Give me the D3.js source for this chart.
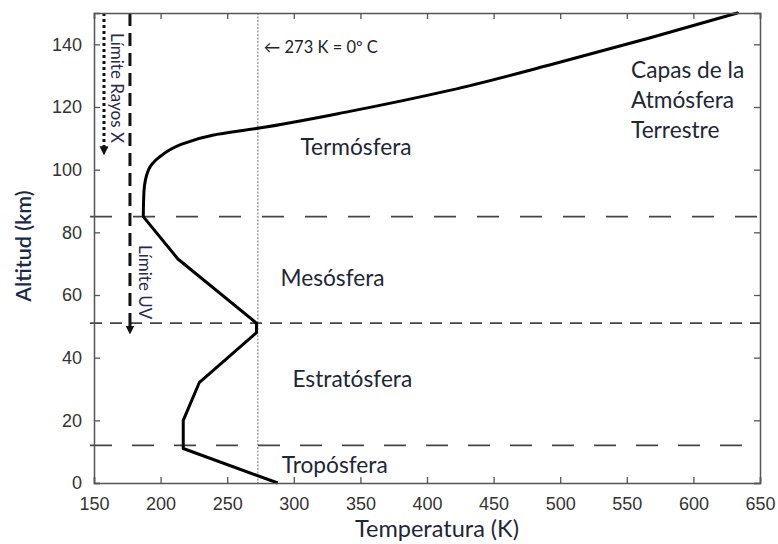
<!DOCTYPE html>
<html>
<head>
<meta charset="utf-8">
<script src="https://cdn.jsdelivr.net/npm/d3@7"></script>
<style>
  html, body { margin: 0; padding: 0; background: #fff; }
  svg { display: block; }
  .tick text { font-family: "Liberation Sans", Arial, sans-serif; font-size: 18px; fill: #333; }
  .lbl { font-family: Lato, "Open Sans", sans-serif; fill: #1d2738; }
</style>
</head>
<body>
<div id="chart"></div>
<script>
// temperature profile (K) vs altitude (km)
var tempK = [288, 217, 217, 229, 272, 272, 213, 187, 187.5, 191, 199, 215, 239, 273, 342, 417, 492, 567, 633];
var altKm = [0, 11, 20, 32, 48, 51, 71.5, 85, 93, 100, 104, 108, 111, 113.2, 118.6, 125.3, 133.4, 142, 150];
var kinkIndex = 7; // below 85 km the profile is piecewise linear

// layer boundaries (km) and their dash styles
var boundaries = [12, 51, 85];
var boundaryDash = ["22,20", "12,8", "22,21"];

// layer names and where their labels sit (K, km)
var layerNames = ["Tropósfera", "Estratósfera", "Mesósfera", "Termósfera"];
var layerLabelT = [291, 299, 290, 305];
var layerLabelAlt = [3.2, 30.5, 62.8, 104.6];

var xTicks = [150, 200, 250, 300, 350, 400, 450, 500, 550, 600, 650];
var yTicks = [0, 20, 40, 60, 80, 100, 120, 140];

var freezeK = 273;
var uvLimit = { T: 177, top: 150, bottom: 48.8 };
var xrayLimit = { T: 157.5, top: 150, bottom: 106 };

var W = 778, H = 544;
var m = { top: 13, right: 18, bottom: 61, left: 94 };

var svg = d3.select("#chart").append("svg").attr("width", W).attr("height", H);

var x = d3.scaleLinear().domain([150, 650]).range([m.left, W - m.right]);
var y = d3.scaleLinear().domain([0, 150]).range([H - m.bottom, m.top]);

var defs = svg.append("defs");
defs.append("marker").attr("id", "arr").attr("viewBox", "0 0 10 10")
  .attr("refX", 5).attr("refY", 5).attr("markerWidth", 3).attr("markerHeight", 3)
  .attr("orient", "auto")
  .append("path").attr("d", "M0,0 L10,5 L0,10 z").attr("fill", "#111");

// 0 °C reference
svg.append("line")
  .attr("x1", x(freezeK)).attr("x2", x(freezeK)).attr("y1", y(150)).attr("y2", y(0))
  .attr("stroke", "#888").attr("stroke-width", 1.2).attr("stroke-dasharray", "2,1.5");

svg.append("text").attr("class", "lbl")
  .attr("x", x(freezeK) + 6).attr("y", 53)
  .style("font-size", "16.5px").style("fill", "#222")
  .text("← 273 K = 0º C");

// layer boundaries
boundaries.forEach(function (b, i) {
  svg.append("line")
    .attr("x1", x(150) - 4).attr("x2", x(650)).attr("y1", y(b)).attr("y2", y(b))
    .attr("stroke", "#444").attr("stroke-width", 1.8)
    .attr("stroke-dasharray", boundaryDash[i]);
});

// limits of UV / X-ray penetration
svg.append("line")
  .attr("x1", x(uvLimit.T)).attr("x2", x(uvLimit.T))
  .attr("y1", y(uvLimit.top)).attr("y2", y(uvLimit.bottom))
  .attr("stroke", "#111").attr("stroke-width", 3).attr("stroke-dasharray", "13,7")
  .attr("marker-end", "url(#arr)");
svg.append("line")
  .attr("x1", x(xrayLimit.T)).attr("x2", x(xrayLimit.T))
  .attr("y1", y(xrayLimit.top)).attr("y2", y(xrayLimit.bottom))
  .attr("stroke", "#111").attr("stroke-width", 3).attr("stroke-dasharray", "3,3")
  .attr("marker-end", "url(#arr)");

svg.append("text").attr("class", "lbl")
  .attr("transform", "translate(" + (x(xrayLimit.T) + 7) + "," + 33 + ") rotate(90)")
  .style("font-size", "17px").style("fill", "#2b2850")
  .text("Límite Rayos X");
svg.append("text").attr("class", "lbl")
  .attr("transform", "translate(" + (x(uvLimit.T) + 9) + "," + 245 + ") rotate(90)")
  .style("font-size", "17px").style("fill", "#2b2850")
  .text("Límite UV");

// temperature profile
var pts = tempK.map(function (t, i) { return [t, altKm[i]]; });
var lower = d3.line().x(function (d) { return x(d[0]); }).y(function (d) { return y(d[1]); });
var upper = d3.line().x(function (d) { return x(d[0]); }).y(function (d) { return y(d[1]); })
  .curve(d3.curveMonotoneY);
svg.append("path").attr("d", lower(pts.slice(0, kinkIndex + 1)))
  .attr("fill", "none").attr("stroke", "#000").attr("stroke-width", 3).attr("stroke-linejoin", "round");
svg.append("path").attr("d", upper(pts.slice(kinkIndex)))
  .attr("fill", "none").attr("stroke", "#000").attr("stroke-width", 3).attr("stroke-linecap", "round");

// layer labels
layerNames.forEach(function (name, i) {
  svg.append("text").attr("class", "lbl")
    .attr("x", x(layerLabelT[i])).attr("y", y(layerLabelAlt[i]))
    .style("font-size", "22.7px")
    .text(name);
});

var title = svg.append("text").attr("class", "lbl").style("font-size", "22.7px");
["Capas de la", "Atmósfera", "Terrestre"].forEach(function (s, i) {
  title.append("tspan").attr("x", 631).attr("y", 78 + i * 30).text(s);
});

// axes (ticks inward, mirrored on top/right)
var axB = svg.append("g").attr("transform", "translate(0," + y(0) + ")")
  .call(d3.axisBottom(x).tickValues(xTicks).tickSize(-6).tickPadding(14));
var axT = svg.append("g").attr("transform", "translate(0," + y(150) + ")")
  .call(d3.axisTop(x).tickValues(xTicks).tickSize(-6).tickFormat(""));
var axL = svg.append("g").attr("transform", "translate(" + x(150) + ",0)")
  .call(d3.axisLeft(y).tickValues(yTicks).tickSize(-6).tickPadding(12));
var axR = svg.append("g").attr("transform", "translate(" + x(650) + ",0)")
  .call(d3.axisRight(y).tickValues(yTicks).tickSize(-6).tickFormat(""));
[axB, axT, axL, axR].forEach(function (a) {
  a.select(".domain").attr("stroke", "#555").attr("stroke-width", 1.5);
  a.selectAll(".tick line").attr("stroke", "#555").attr("stroke-width", 1.3);
});

svg.append("text").attr("class", "lbl")
  .attr("x", 437).attr("y", 537)
  .attr("text-anchor", "middle").style("font-size", "23.5px")
  .text("Temperatura (K)");
svg.append("text").attr("class", "lbl")
  .attr("transform", "translate(31," + 246 + ") rotate(-90)")
  .attr("text-anchor", "middle").style("font-size", "21.5px").style("font-weight", "600")
  .style("fill", "#1c2a4a")
  .text("Altitud (km)");
</script>
</body>
</html>
